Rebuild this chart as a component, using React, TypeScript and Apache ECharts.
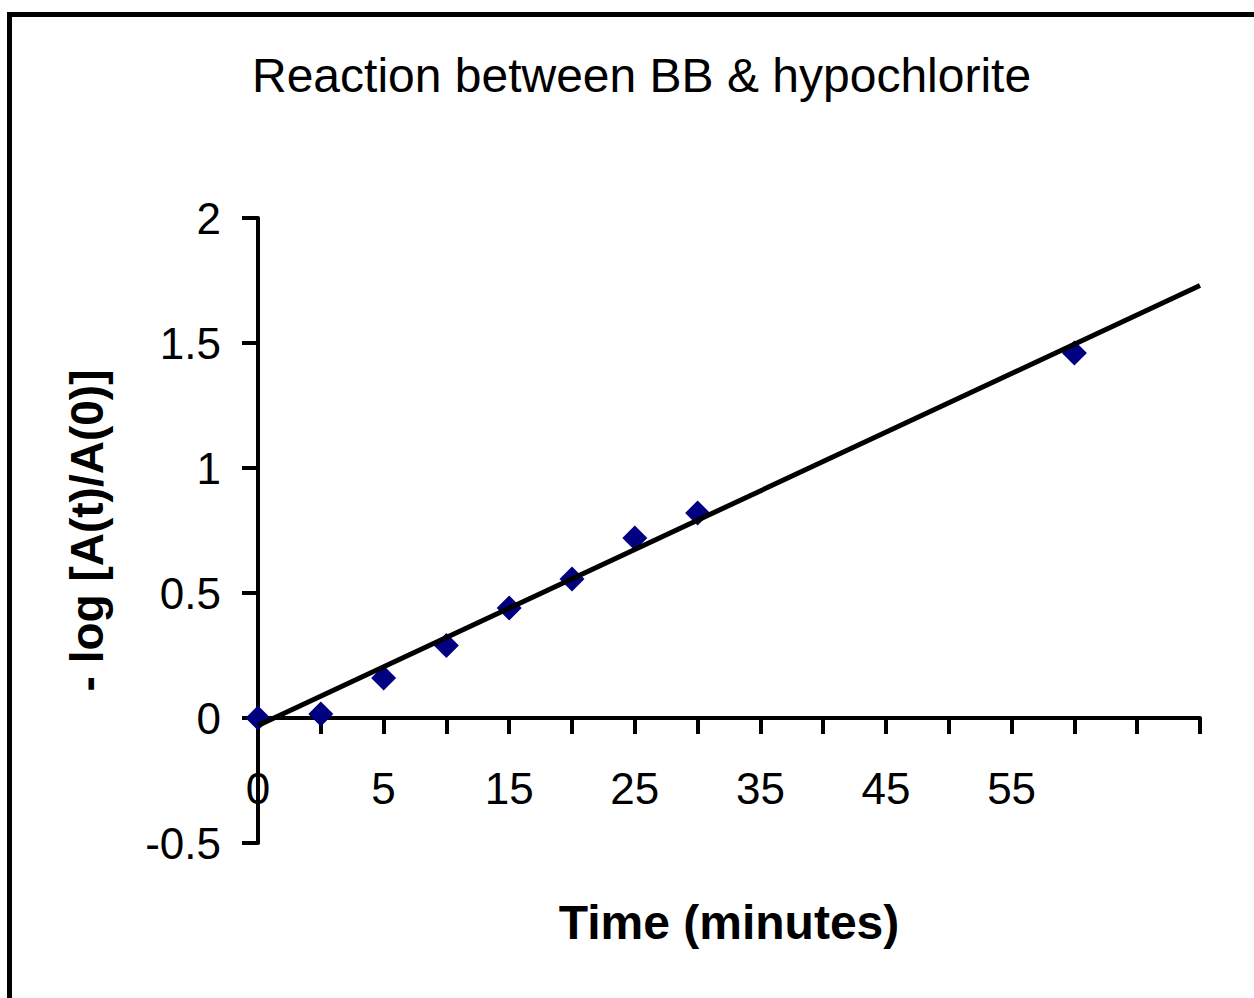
import React, { useEffect, useRef } from "react";
import * as echarts from "echarts";

// Category axis (Excel line-style chart): time points in minutes
const timeCategories = ["0", "2.5", "5", "10", "15", "20", "25", "30", "35", "40", "45", "50", "55", "60", "65", "70"];
// Measured points
const measuredTimes = ["0", "2.5", "5", "10", "15", "20", "25", "30", "60"];
const measuredValues = [0.0, 0.016, 0.16, 0.29, 0.44, 0.556, 0.72, 0.82, 1.46];
// Linear trendline endpoints
const trendTimes = ["0", "70"];
const trendValues = [-0.03, 1.73];

const FONT = "'Liberation Sans', Arial, sans-serif";

export default function App() {
  const ref = useRef<HTMLDivElement>(null);
  useEffect(() => {
    if (!ref.current) return;
    const chart = echarts.init(ref.current, undefined, { renderer: "svg" });
    chart.setOption({
      animation: false,
      backgroundColor: "#ffffff",
      title: {
        text: "Reaction between BB & hypochlorite",
        left: 252,
        top: 51,
        padding: 0,
        textStyle: { fontFamily: FONT, fontSize: 48, fontWeight: "normal", color: "#000" },
      },
      graphic: [
        {
          type: "rect",
          shape: { x: 9.5, y: 14.5, width: 1400, height: 1200 },
          style: { fill: "none", stroke: "#000", lineWidth: 5 },
          silent: true,
        },
      ],
      grid: {
        left: 258,
        right: 54,
        top: 218,
        bottom: 155,
        containLabel: false,
        outerBoundsMode: "none",
      },
      xAxis: {
        type: "category",
        data: timeCategories,
        boundaryGap: false,
        name: "Time (minutes)",
        nameLocation: "middle",
        nameGap: 55,
        nameTextStyle: { fontFamily: FONT, fontSize: 48, fontWeight: "bold", color: "#000" },
        axisLine: { onZero: true, lineStyle: { color: "#000", width: 4 } },
        axisTick: { show: true, interval: 0, length: 16, lineStyle: { color: "#000", width: 4 } },
        axisLabel: {
          interval: (i: number) => i % 2 === 0 && i <= 12,
          margin: -77,
          fontFamily: FONT,
          fontSize: 44,
          color: "#000",
        },
        splitLine: { show: false },
      },
      yAxis: {
        type: "value",
        min: -0.5,
        max: 2,
        interval: 0.5,
        name: "- log [A(t)/A(0)]",
        nameLocation: "middle",
        nameGap: 148,
        nameTextStyle: { fontFamily: FONT, fontSize: 46, fontWeight: "bold", color: "#000" },
        axisLine: { show: true, lineStyle: { color: "#000", width: 4 } },
        axisTick: { show: true, length: 16, lineStyle: { color: "#000", width: 4 } },
        axisLabel: { margin: 37, fontFamily: FONT, fontSize: 44, color: "#000" },
        splitLine: { show: false },
      },
      series: [
        {
          type: "line",
          data: trendTimes.map((t, i) => [t, trendValues[i]]),
          symbol: "none",
          lineStyle: { color: "#000", width: 5 },
          z: 3,
        },
        {
          type: "scatter",
          data: measuredTimes.map((t, i) => [t, measuredValues[i]]),
          symbol: "diamond",
          symbolSize: 25,
          itemStyle: { color: "#000080", opacity: 1 },
          z: 2,
        },
      ],
    });
    return () => chart.dispose();
  }, []);
  return (
    <div
      ref={ref}
      style={{ position: "fixed", left: 0, top: 0, width: 1254, height: 998, background: "#fff" }}
    />
  );
}
